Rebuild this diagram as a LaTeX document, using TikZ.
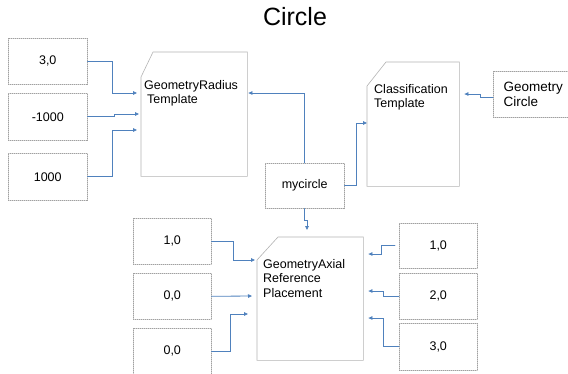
\documentclass[tikz,border=0pt]{standalone}
\usepackage{fontspec}
\setmainfont{Liberation Sans}
\usepackage{xcolor}
\definecolor{myblue}{RGB}{79,129,189}
\definecolor{mygray}{RGB}{160,160,160}
\usepackage{tikz}
\usetikzlibrary{calc}
\usetikzlibrary{arrows.meta}
\newcommand{\DocShape}[3]{
\draw[docline] ($(#1.north west)+(#2,0)$) -- (#1.north east) -- (#1.south east)
  -- (#1.south west) -- ($(#1.north west)+(0,#3)$) --cycle;}

\begin{document}
\begin{tikzpicture}[x=1pt,y=-1pt,line cap=round]
	\tikzstyle{valbox}=[draw=mygray,dash pattern=on 1pt off 1pt,line width=.5pt,inner sep=0pt,anchor=north west,font=\fontsize{12.5}{15}\selectfont,align=left];
	\tikzstyle{tmpl}=[inner sep=0pt,anchor=north west];
	\tikzstyle{docline}=[draw=mygray!80,line width=.6pt];
	\tikzstyle{tmpltxt}=[inner sep=0pt,anchor=north west,align=left,font=\fontsize{12.5}{14.5}\selectfont];
	\tikzstyle{link}=[draw=myblue,line width=.8pt,-{Triangle[length=4pt,width=3.6pt]}];
	%%
	\clip (0,0) rectangle (568,373);
	\node[font=\fontsize{25}{27}\selectfont] (title) at (295,17) {Circle};
	%%
	\node[valbox,minimum width=79,minimum height=46] (v1) at (8,38)  {3,0};
	\node[valbox,minimum width=79,minimum height=47] (v2) at (8,93)  {-1000};
	\node[valbox,minimum width=79,minimum height=47] (v3) at (8,153) {1000};
	\node[valbox,minimum width=79,minimum height=45] (myc) at (265,163) {mycircle};
	\node[valbox,minimum width=80,minimum height=46,font=\fontsize{13.5}{15}\selectfont] (gc) at (493,71) {Geometry\\Circle};
	\node[valbox,minimum width=78,minimum height=46] (l1) at (133,218) {1,0};
	\node[valbox,minimum width=78,minimum height=46] (l2) at (133,273) {0,0};
	\node[valbox,minimum width=78,minimum height=46] (l3) at (133,328) {0,0};
	\node[valbox,minimum width=78,minimum height=45] (r1) at (399,223) {1,0};
	\node[valbox,minimum width=78,minimum height=46] (r2) at (399,273) {2,0};
	\node[valbox,minimum width=78,minimum height=47] (r3) at (399,323) {3,0};
	%%
	\node[tmpl,minimum width=106,minimum height=124] (rad) at (141,52)  {};
	\node[tmpl,minimum width=92, minimum height=124] (cls) at (367,62)  {};
	\node[tmpl,minimum width=106,minimum height=123] (ax)  at (257,237) {};
	\DocShape{rad}{12}{25}
	\DocShape{cls}{19}{24}
	\DocShape{ax}{21}{23}
	\node[tmpltxt] (radtxt) at ($(rad.north west)+(3,28)$) {GeometryRadius\\\hspace{3pt}Template};
	\node[tmpltxt] (clstxt) at ($(cls.north west)+(7,22)$) {Classification\\Template};
	\node[tmpltxt] (axtxt)  at ($(ax.north west)+(6,22)$)  {GeometryAxial\\Reference\\Placement};
	%%
	\draw[link,shorten >=4pt] (v1.east) -- ++(25,0) |- ($(rad.north west)+(0,41)$);
	\draw[link,shorten >=2pt] (v2.east) -- ++(27,0) |- ($(rad.north west)+(0,62)$);
	\draw[link,shorten >=4pt] (v3.east) -- ++(25,0) |- ($(rad.north west)+(0,78)$);
	\draw[link,shorten >=1pt] (myc.north) |- ($(rad.north east)+(0,41)$);
	\draw[link] (myc.east) -- ++(12,0) |- ($(cls.north west)+(0,61)$);
	\draw[link,shorten >=5pt] ([yshift=-3pt]gc.west) -- ++(-13,0) |- ($(cls.north east)+(0,32)$);
	\draw[link,shorten >=7pt] (myc.south) -- ++(0,12) -| ($(ax.north west)+(50,0)$);
	%%
	\draw[link,shorten >=2pt] (l1.east) -- ++(22,0) |- ($(ax.north west)+(0,23)$);
	\draw[link,shorten >=5pt] (l2.east) -- ($(ax.north west)+(0,59)$);
	\draw[link,shorten >=9pt] (l3.east) -- ++(19,0) |- ($(ax.north west)+(0,77)$);
	\draw[link,shorten <=4pt,shorten >=5pt] (r1.west) -- ++(-18,0) |- ($(ax.north east)+(0,17)$);
	\draw[link,shorten >=5pt] (r2.west) -- ++(-16,0) |- ($(ax.north east)+(0,54)$);
	\draw[link,shorten >=5pt] (r3.west) -- ++(-16,0) |- ($(ax.north east)+(0,81)$);
\end{tikzpicture}
\end{document}
